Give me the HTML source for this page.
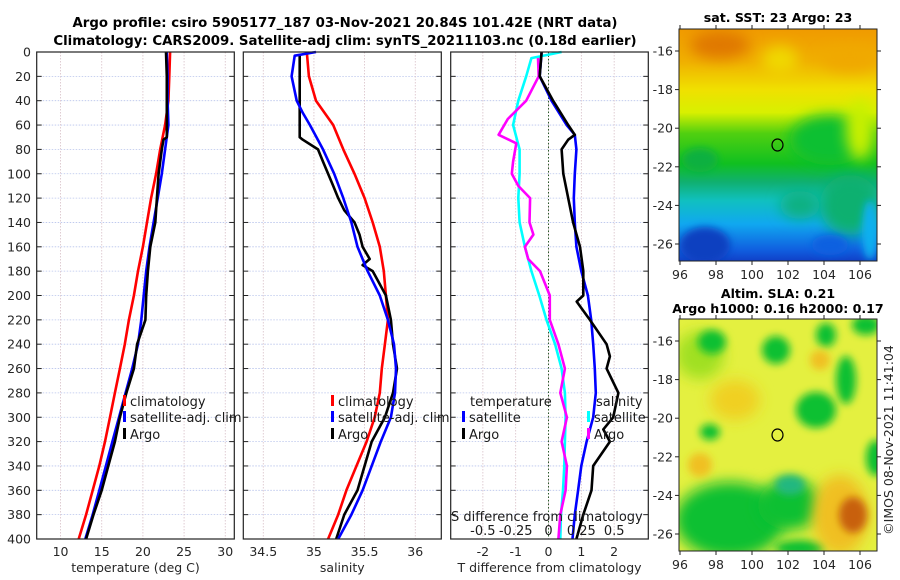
<!DOCTYPE html>
<html><head><meta charset="utf-8"><style>
html,body{margin:0;padding:0;background:#fff;}
svg{display:block;font-family:"DejaVu Sans","Liberation Sans",sans-serif;}
.tl{font-size:12.5px;fill:#262626;}
.tt{font-size:13.3px;font-weight:bold;fill:#000;}
.tm{font-size:12.6px;font-weight:bold;fill:#000;}
.lg{font-size:13px;fill:#1a1a1a;}
</style></head><body>
<svg id="chart" width="900" height="580" viewBox="0 0 900 580" xmlns="http://www.w3.org/2000/svg">
<defs>
<filter id="bl" x="-50%" y="-50%" width="200%" height="200%"><feGaussianBlur stdDeviation="7"/></filter>
<filter id="bl2" x="-50%" y="-50%" width="200%" height="200%"><feGaussianBlur stdDeviation="4"/></filter>
<linearGradient id="sstg" x1="0" y1="0" x2="0" y2="1">
<stop offset="0" stop-color="#f09a00"/><stop offset="0.14" stop-color="#f0b000"/>
<stop offset="0.26" stop-color="#f0e000"/><stop offset="0.36" stop-color="#d8f000"/>
<stop offset="0.45" stop-color="#50d010"/><stop offset="0.58" stop-color="#10c020"/>
<stop offset="0.66" stop-color="#10b070"/><stop offset="0.74" stop-color="#10c0c0"/>
<stop offset="0.84" stop-color="#10a8f0"/><stop offset="0.95" stop-color="#1060e0"/>
<stop offset="1" stop-color="#1040c8"/></linearGradient>
<clipPath id="c1"><rect x="679" y="29" width="198" height="232"/></clipPath>
<clipPath id="c2"><rect x="679" y="319" width="198" height="232"/></clipPath>
</defs>
<text class="tt" x="345" y="27" text-anchor="middle">Argo profile: csiro 5905177_187 03-Nov-2021 20.84S 101.42E (NRT data)</text>
<text class="tt" x="345" y="45" text-anchor="middle">Climatology: CARS2009. Satellite-adj clim: synTS_20211103.nc (0.18d earlier)</text>
<g id="panels"></g>

<g>
<text class="tm" x="778" y="22" text-anchor="middle">sat. SST: 23 Argo: 23</text>
<g clip-path="url(#c1)">
<rect x="679" y="29" width="198" height="232" fill="url(#sstg)"/>
<ellipse cx="720" cy="45" rx="30" ry="14" fill="#e07800" filter="url(#bl)"/>
<ellipse cx="850" cy="60" rx="30" ry="12" fill="#f0a800" filter="url(#bl)"/>
<ellipse cx="780" cy="60" rx="18" ry="14" fill="#f0d800" filter="url(#bl)"/>
<ellipse cx="830" cy="140" rx="40" ry="25" fill="#10c030" filter="url(#bl)"/>
<ellipse cx="860" cy="130" rx="14" ry="30" fill="#c8f000" filter="url(#bl)"/>
<ellipse cx="700" cy="160" rx="18" ry="12" fill="#10b040" filter="url(#bl2)"/>
<ellipse cx="850" cy="205" rx="30" ry="30" fill="#10b070" filter="url(#bl)"/>
<ellipse cx="800" cy="205" rx="20" ry="14" fill="#10b080" filter="url(#bl)"/>
<ellipse cx="705" cy="245" rx="25" ry="18" fill="#1040c0" filter="url(#bl2)"/>
<ellipse cx="830" cy="245" rx="18" ry="10" fill="#1060e0" filter="url(#bl2)"/>
<ellipse cx="870" cy="230" rx="8" ry="30" fill="#10b0f0" filter="url(#bl2)"/>
</g>
<rect x="679" y="29" width="198" height="232" fill="none" stroke="#222" stroke-width="1"/>
<ellipse cx="777.5" cy="145" rx="5.5" ry="6" fill="none" stroke="#000" stroke-width="1.2"/>
<g id="sstax"></g>
</g>

<g>
<text class="tm" x="778" y="298" text-anchor="middle">Altim. SLA: 0.21</text>
<text class="tm" x="778" y="313" text-anchor="middle">Argo h1000: 0.16 h2000: 0.17</text>
<g clip-path="url(#c2)">
<rect x="679" y="319" width="198" height="232" fill="#e4f040"/>
<ellipse cx="700" cy="355" rx="24" ry="24" fill="#a0e020" filter="url(#bl)"/>
<ellipse cx="712" cy="342" rx="14" ry="12" fill="#10c030" filter="url(#bl2)"/>
<ellipse cx="776" cy="350" rx="14" ry="14" fill="#10c030" filter="url(#bl2)"/>
<ellipse cx="826" cy="335" rx="10" ry="12" fill="#10c030" filter="url(#bl2)"/>
<ellipse cx="866" cy="325" rx="14" ry="10" fill="#10c030" filter="url(#bl2)"/>
<ellipse cx="846" cy="380" rx="10" ry="24" fill="#10c030" filter="url(#bl2)"/>
<ellipse cx="816" cy="410" rx="20" ry="18" fill="#10c030" filter="url(#bl2)"/>
<ellipse cx="710" cy="432" rx="10" ry="8" fill="#10c030" filter="url(#bl2)"/>
<ellipse cx="876" cy="458" rx="10" ry="18" fill="#10c030" filter="url(#bl2)"/>
<ellipse cx="730" cy="520" rx="55" ry="38" fill="#10c030" filter="url(#bl)"/>
<ellipse cx="790" cy="505" rx="32" ry="25" fill="#10c030" filter="url(#bl)"/>
<ellipse cx="790" cy="485" rx="15" ry="10" fill="#20b880" filter="url(#bl2)"/>
<ellipse cx="800" cy="548" rx="25" ry="8" fill="#10c030" filter="url(#bl2)"/>
<ellipse cx="840" cy="515" rx="28" ry="40" fill="#f0c020" filter="url(#bl)"/>
<ellipse cx="853" cy="515" rx="14" ry="18" fill="#c86010" filter="url(#bl2)"/>
<ellipse cx="735" cy="400" rx="25" ry="20" fill="#f0d020" filter="url(#bl)"/>
<ellipse cx="700" cy="465" rx="12" ry="12" fill="#f0c020" filter="url(#bl2)"/>
<ellipse cx="820" cy="360" rx="10" ry="10" fill="#f0c020" filter="url(#bl2)"/>
</g>
<rect x="679" y="319" width="198" height="232" fill="none" stroke="#222" stroke-width="1"/>
<ellipse cx="777.5" cy="435" rx="5.5" ry="6" fill="none" stroke="#000" stroke-width="1.2"/>
<g id="slaax"></g>
</g>
<text class="tl" transform="translate(893,440) rotate(-90)" text-anchor="middle">©IMOS 08-Nov-2021 11:41:04</text>
</svg>
<script>
const depths = [0,20,40,60,80,100,120,140,160,180,200,220,240,260,280,300,320,340,360,380,400];
const tempClim = [23.3,23.2,23.1,22.7,22.1,21.6,21.0,20.5,20.0,19.4,18.9,18.3,17.8,17.2,16.6,16.0,15.4,14.7,13.9,13.1,12.2];
const tempSat = [22.9,23.0,23.0,23.1,22.7,22.3,21.8,21.3,20.8,20.4,20.1,19.8,19.4,18.7,17.9,17.1,16.3,15.5,14.7,13.9,13.0];
const argoDepths = [0,20,40,60,70,72,80,100,120,140,160,180,200,220,240,260,280,300,320,340,360,380,400];
const tempArgo = [22.8,22.9,22.9,22.9,22.9,22.5,22.3,21.9,21.7,21.5,20.9,20.6,20.4,20.3,19.3,18.9,18.0,17.2,16.6,15.8,15.0,14.0,13.1];
const salClim = [34.93,34.95,35.02,35.19,35.29,35.40,35.50,35.58,35.65,35.69,35.71,35.73,35.70,35.67,35.65,35.60,35.52,35.42,35.32,35.24,35.14];
const satDepths = [0,3,20,40,50,60,80,100,120,140,160,180,200,220,240,260,280,300,320,340,360,380,400];
const salSat = [35.02,34.81,34.78,34.83,34.89,34.96,35.09,35.20,35.29,35.37,35.43,35.53,35.65,35.73,35.79,35.81,35.80,35.76,35.66,35.57,35.48,35.37,35.24];
const argoSDepths = [3,70,72,80,90,100,110,120,130,140,150,160,170,175,180,200,220,240,260,280,300,320,340,360,380,400];
const salArgo = [34.86,34.86,34.89,35.04,35.09,35.14,35.19,35.24,35.30,35.40,35.45,35.48,35.55,35.48,35.58,35.71,35.76,35.78,35.82,35.78,35.70,35.57,35.50,35.43,35.30,35.22];
const dTDepths = [0,20,40,60,68,80,100,120,140,160,180,200,220,240,260,280,300,320,340,360,380,400];
const dTSat = [-0.21,-0.27,0.09,0.55,0.80,0.85,0.80,0.77,0.80,0.85,1.0,1.2,1.3,1.36,1.41,1.44,1.36,1.16,1.0,0.9,0.8,0.73];
const dTArgoDepths = [0,20,40,60,68,72,80,100,120,140,160,180,200,205,220,240,250,260,280,300,310,320,340,360,380,400];
const dTArgo = [-0.21,-0.27,0.14,0.6,0.8,0.6,0.4,0.45,0.6,0.75,0.96,1.06,1.06,0.86,1.26,1.77,1.87,1.77,2.13,1.97,1.67,1.87,1.36,1.31,1.06,0.85];
const dSDepths = [0,5,20,40,60,80,100,120,140,160,180,200,220,240,260,280,300,320,340,360,380,400];
const dSSat = [0.10,-0.13,-0.17,-0.23,-0.27,-0.22,-0.22,-0.23,-0.22,-0.18,-0.13,-0.07,-0.015,0.05,0.10,0.125,0.13,0.125,0.12,0.11,0.095,0.09];
const dSArgoDepths = [5,20,40,55,68,75,90,100,110,120,140,150,160,170,180,200,220,240,260,280,300,320,340,360,380,400];
const dSArgo = [-0.08,-0.075,-0.17,-0.31,-0.38,-0.245,-0.27,-0.28,-0.23,-0.14,-0.145,-0.115,-0.18,-0.155,-0.065,0.01,0.01,0.075,0.125,0.09,0.14,0.1,0.14,0.13,0.09,0.075];
const depthTicks = [0,20,40,60,80,100,120,140,160,180,200,220,240,260,280,300,320,340,360,380,400];
const tempTicks = [10,15,20,25,30];
const salTicks = [34.5,35,35.5,36];
const dTTicks = [-2,-1,0,1,2];
const dSTickLabels = ['-0.5','-0.25','0','0.25','0.5'];
const dSTicks = [-0.5,-0.25,0,0.25,0.5];
const lonTicks = [96,98,100,102,104,106];
const latTicks = [-16,-18,-20,-22,-24,-26];

const NS='http://www.w3.org/2000/svg';
const panels=document.getElementById('panels');
function mk(tag,attrs,parent){const e=document.createElementNS(NS,tag);for(const k in attrs)e.setAttribute(k,attrs[k]);(parent||panels).appendChild(e);return e;}
const top0=52, bot0=539;
const Y=d=>top0+(bot0-top0)*d/400;
function panel(x0,x1,lo,hi){return {x0,x1,X:v=>x0+(x1-x0)*(v-lo)/(hi-lo)};}
const P1=panel(36.7,234.3,7.1,31.1), P2=panel(243.3,441.3,34.303,36.257), P3=panel(450.7,648.3,-2.98,3.04);

function frame(P,xt,name,label){
  const g=mk('g',{});
  
  
  depthTicks.forEach(d=>{mk('line',{x1:P.x0,x2:P.x1,y1:Y(d),y2:Y(d),stroke:'#b8c4ec','stroke-width':0.8,'stroke-dasharray':'1.5,1.5'},g);
    mk('line',{x1:P.x0,x2:P.x0+5,y1:Y(d),y2:Y(d),stroke:'#222'},g);mk('line',{x1:P.x1-5,x2:P.x1,y1:Y(d),y2:Y(d),stroke:'#222'},g);});
  xt.forEach(v=>{mk('line',{x1:P.X(v),x2:P.X(v),y1:top0,y2:bot0,stroke:'#d8c0c8','stroke-width':0.8,'stroke-dasharray':'1.5,1.5'},g);
    const t=mk('text',{x:P.X(v),y:bot0+17,'text-anchor':'middle',class:'tl'},g);t.textContent=String(v);
    
    });
  const lt=mk('text',{x:(P.x0+P.x1)/2,y:bot0+33,'text-anchor':'middle',class:'tl'},g);lt.textContent=label;
  
  
  return g;
}
function border(P){mk('rect',{x:P.x0,y:top0,width:P.x1-P.x0,height:bot0-top0,fill:'none',stroke:'#222','stroke-width':1.2});}
function line(P,ds,vs,color,name,scale){
  const s=scale||1;
  const d=ds.map((dd,i)=>(i?'L':'M')+P.X(vs[i]*s).toFixed(1)+','+Y(dd).toFixed(1)).join(' ');
  const p=mk('path',{d,fill:'none',stroke:color,'stroke-width':2.6,'stroke-linejoin':'round'});
  
  
}
function leg(x,y,color,text,name){
  mk('rect',{x:x,y:y-6,width:3,height:11,fill:color});
  const t=mk('text',{x:x+7,y:y+5,class:'lg'});t.textContent=text;
  
  
}
frame(P1,tempTicks,'temperature-panel','temperature (deg C)');
frame(P2,salTicks,'salinity-panel','salinity');
frame(P3,dTTicks,'difference-panel','T difference from climatology');
mk('line',{x1:P3.X(0),x2:P3.X(0),y1:top0,y2:bot0,stroke:'#2a5a2a','stroke-width':1,'stroke-dasharray':'1.5,2'});
depthTicks.forEach(d=>{const t=mk('text',{x:31,y:Y(d)+4.5,'text-anchor':'end',class:'tl'});t.textContent=d;
  
  });

line(P1,depths,tempClim,'#ff0000','temp-climatology-line');
line(P1,depths,tempSat,'#0000ff','temp-satellite-line');
line(P1,argoDepths,tempArgo,'#000000','temp-argo-line');
line(P2,depths,salClim,'#ff0000','sal-climatology-line');
line(P2,argoSDepths,salArgo,'#000000','sal-argo-line');
line(P2,satDepths,salSat,'#0000ff','sal-satellite-line');
line(P3,dSDepths,dSSat,'#00ffff','sdiff-satellite-line',4);
line(P3,dSArgoDepths,dSArgo,'#ff00ff','sdiff-argo-line',4);
line(P3,dTDepths,dTSat,'#0000ff','tdiff-satellite-line');
line(P3,dTArgoDepths,dTArgo,'#000000','tdiff-argo-line');
border(P1);border(P2);border(P3);

leg(123,401,'#ff0000','climatology','legend-climatology');
leg(123,417,'#0000ff','satellite-adj. clim','legend-satellite-adj');
leg(123,434,'#000000','Argo','legend-argo');
leg(331,401,'#ff0000','climatology','legend2-climatology');
leg(331,417,'#0000ff','satellite-adj. clim','legend2-satellite-adj');
leg(331,434,'#000000','Argo','legend2-argo');
let tt=mk('text',{x:470,y:406,class:'lg'});tt.textContent='temperature';


leg(462,417,'#0000ff','satellite','legend-t-satellite');
leg(462,434,'#000000','Argo','legend-t-argo');
tt=mk('text',{x:596,y:406,class:'lg'});tt.textContent='salinity';


leg(587,417,'#00ffff','satellite','legend-s-satellite');
leg(587,434,'#ff00ff','Argo','legend-s-argo');
tt=mk('text',{x:451,y:521,class:'lg'});tt.textContent='S difference from climatology';


dSTicks.forEach((v,i)=>{const t=mk('text',{x:P3.X(v*4),y:535,'text-anchor':'middle',class:'lg'});t.textContent=dSTickLabels[i];
  
  });

function mapAxes(id,ytop){
  const g=document.getElementById(id);
  const LX=lon=>680+(lon-96)*18, LY=lat=>ytop+22+(-16-lat)*19.3;
  lonTicks.forEach(lon=>{mk('line',{x1:LX(lon),x2:LX(lon),y1:ytop,y2:ytop-4,stroke:'#222'},g);mk('line',{x1:LX(lon),x2:LX(lon),y1:ytop+232,y2:ytop+236,stroke:'#222'},g);
    const t=mk('text',{x:LX(lon),y:ytop+250,'text-anchor':'middle',class:'tl'},g);t.textContent=lon;
    
    });
  latTicks.forEach(lat=>{mk('line',{x1:679,x2:675,y1:LY(lat),y2:LY(lat),stroke:'#222'},g);mk('line',{x1:877,x2:881,y1:LY(lat),y2:LY(lat),stroke:'#222'},g);
    const t=mk('text',{x:673,y:LY(lat)+4.5,'text-anchor':'end',class:'tl'},g);t.textContent=lat;
    
    });
}
mapAxes('sstax',29);
mapAxes('slaax',319);
</script>
</body></html>
